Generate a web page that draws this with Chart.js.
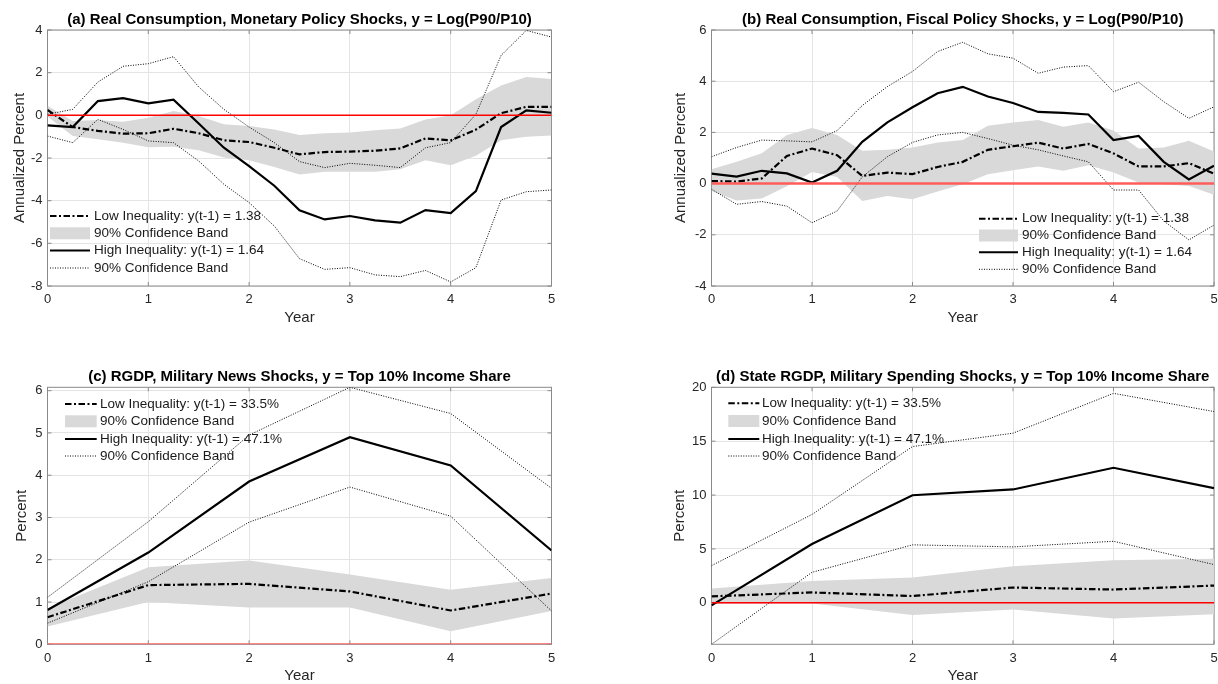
<!DOCTYPE html>
<html>
<head>
<meta charset="utf-8">
<script src="https://cdn.jsdelivr.net/npm/chart.js@4/dist/chart.umd.min.js"></script>
<style>
  html, body { margin: 0; padding: 0; background: #fff; overflow: hidden; width: 1218px; height: 684px; }
  canvas { position: absolute; }
</style>
</head>
<body>
<canvas id="pa" width="570" height="331" style="left:0px;top:0px"></canvas>
<canvas id="pb" width="590" height="331" style="left:640px;top:0px"></canvas>
<canvas id="pc" width="570" height="332" style="left:0px;top:357px"></canvas>
<canvas id="pd" width="590" height="332" style="left:640px;top:357px"></canvas>
<script>
// Horizons (years after the shock)
const quarters = [0, 0.25, 0.5, 0.75, 1, 1.25, 1.5, 1.75, 2, 2.25, 2.5, 2.75, 3, 3.25, 3.5, 3.75, 4, 4.25, 4.5, 4.75, 5];
const years = [0, 1, 2, 3, 4, 5];
const xTicks = [0, 1, 2, 3, 4, 5];

// (a) Real consumption, monetary policy shocks
const aLow       = [0.25, -0.55, -0.73, -0.86, -0.84, -0.63, -0.84, -1.17, -1.25, -1.52, -1.83, -1.72, -1.70, -1.66, -1.55, -1.08, -1.17, -0.67, 0.10, 0.40, 0.40];
const aLowBandUp = [0.45, -0.27, -0.22, -0.30, -0.11, 0.20, -0.03, -0.42, -0.50, -0.66, -0.92, -0.84, -0.80, -0.70, -0.62, -0.19, 0.00, 0.75, 1.40, 1.80, 1.70];
const aLowBandDn = [-0.05, -0.97, -1.12, -1.28, -1.50, -1.47, -1.64, -1.98, -2.10, -2.42, -2.77, -2.64, -2.64, -2.64, -2.53, -2.10, -2.34, -1.90, -1.17, -1.00, -0.94];
const aHigh      = [-0.47, -0.55, 0.67, 0.81, 0.56, 0.73, -0.38, -1.52, -2.38, -3.30, -4.45, -4.88, -4.72, -4.92, -5.03, -4.44, -4.58, -3.55, -0.55, 0.23, 0.12];
const aHighUp    = [0.05, 0.28, 1.56, 2.30, 2.42, 2.75, 1.33, 0.28, -0.55, -1.28, -2.17, -2.45, -2.25, -2.34, -2.45, -1.52, -1.28, 0.05, 2.81, 3.98, 3.67];
const aHighDn    = [-0.97, -1.28, -0.19, -0.66, -1.20, -1.28, -2.14, -3.23, -4.09, -5.19, -6.72, -7.22, -7.14, -7.48, -7.56, -7.27, -7.81, -7.14, -3.97, -3.58, -3.50];
const aTicks = [-8, -6, -4, -2, 0, 2, 4];

// (b) Real consumption, fiscal policy shocks
const bLow       = [0.10, 0.08, 0.20, 1.08, 1.37, 1.11, 0.30, 0.43, 0.37, 0.65, 0.85, 1.32, 1.46, 1.60, 1.37, 1.55, 1.18, 0.67, 0.67, 0.80, 0.39];
const bLowBandUp = [0.56, 0.85, 1.19, 1.90, 2.17, 1.90, 1.28, 1.32, 1.41, 1.61, 1.70, 2.26, 2.39, 2.48, 2.22, 2.39, 2.07, 1.37, 1.41, 1.67, 1.25];
const bLowBandDn = [-0.29, -0.66, -0.58, -0.10, 0.45, 0.26, -0.68, -0.48, -0.61, -0.31, -0.03, 0.37, 0.52, 0.67, 0.50, 0.72, 0.43, 0.04, -0.03, -0.09, -0.44];
const bHigh      = [0.39, 0.27, 0.50, 0.40, 0.04, 0.50, 1.63, 2.39, 2.98, 3.53, 3.78, 3.40, 3.15, 2.80, 2.76, 2.70, 1.70, 1.86, 0.85, 0.16, 0.70];
const bHighUp    = [1.05, 1.41, 1.70, 1.67, 1.63, 2.07, 3.05, 3.79, 4.38, 5.16, 5.52, 5.07, 4.90, 4.31, 4.55, 4.61, 3.59, 3.96, 3.20, 2.55, 3.00];
const bHighDn    = [-0.22, -0.81, -0.70, -0.88, -1.53, -1.07, 0.26, 1.05, 1.61, 1.90, 2.00, 1.76, 1.50, 1.32, 1.08, 0.85, -0.25, -0.25, -1.46, -2.20, -1.62];
const bTicks = [-4, -2, 0, 2, 4, 6];

// (c) RGDP, military news shocks
const cLow       = [0.64, 1.40, 1.43, 1.25, 0.80, 1.20];
const cLowBandUp = [0.85, 1.82, 1.98, 1.65, 1.29, 1.57];
const cLowBandDn = [0.42, 1.00, 0.87, 0.87, 0.31, 0.79];
const cHigh      = [0.81, 2.17, 3.85, 4.90, 4.23, 2.22];
const cHighUp    = [1.11, 2.90, 4.95, 6.08, 5.46, 3.69];
const cHighDn    = [0.50, 1.48, 2.89, 3.72, 3.03, 0.79];
const cTicks = [0, 1, 2, 3, 4, 5, 6];

// (d) State RGDP, military spending shocks
const dLow       = [0.60, 0.96, 0.63, 1.42, 1.23, 1.60];
const dLowBandUp = [1.32, 2.02, 2.36, 3.40, 3.95, 4.10];
const dLowBandDn = [-0.12, -0.06, -1.12, -0.62, -1.45, -1.05];
const dHigh      = [-0.24, 5.46, 9.98, 10.52, 12.53, 10.65];
const dHighUp    = [3.45, 8.20, 14.50, 15.74, 19.44, 17.75];
const dHighDn    = [-3.85, 2.83, 5.38, 5.19, 5.71, 3.55];
const dTicks = [0, 5, 10, 15, 20];

const legendConsumption = ['Low Inequality: y(t-1) = 1.38', '90% Confidence Band', 'High Inequality: y(t-1) = 1.64', '90% Confidence Band'];
const legendIncomeShare = ['Low Inequality: y(t-1) = 33.5%', '90% Confidence Band', 'High Inequality: y(t-1) = 47.1%', '90% Confidence Band'];

const FONT = '"Liberation Sans", Arial, Helvetica, sans-serif';
const TEXT = '#262626';
const BAND = '#d9d9d9';
const DASHDOT = [6.5, 2.5, 2, 2.5];
const DOTTED = [1, 1.5];

function pts(xs, ys) { return xs.map((x, i) => ({ x: x, y: ys[i] })); }

// Axes box with inward tick marks, drawn above the grid and below the data
const boxPlugin = {
  id: 'axesBox',
  beforeDatasetsDraw(chart) {
    const { ctx, chartArea: a, scales } = chart;
    ctx.save();
    ctx.strokeStyle = '#8a8a8a';
    ctx.lineWidth = 1;
    ctx.strokeRect(a.left, a.top, a.right - a.left, a.bottom - a.top);
    const t = 4;
    ctx.beginPath();
    scales.x.ticks.forEach(tk => {
      const px = scales.x.getPixelForValue(tk.value);
      ctx.moveTo(px, a.bottom); ctx.lineTo(px, a.bottom - t);
      ctx.moveTo(px, a.top); ctx.lineTo(px, a.top + t);
    });
    scales.y.ticks.forEach(tk => {
      const py = scales.y.getPixelForValue(tk.value);
      ctx.moveTo(a.left, py); ctx.lineTo(a.left + t, py);
      ctx.moveTo(a.right, py); ctx.lineTo(a.right - t, py);
    });
    ctx.stroke();
    ctx.restore();
  }
};

// Legend drawn inside the axes, without a frame
const insideLegend = {
  id: 'insideLegend',
  afterDatasetsDraw(chart, args, opts) {
    const { ctx, chartArea: a } = chart;
    const x0 = a.left + opts.sx0, x1 = a.left + opts.sx1, tx = a.left + opts.tx;
    ctx.save();
    opts.rows.forEach((r, i) => {
      const y = a.top + r;
      if (i === 1) {
        ctx.fillStyle = BAND;
        ctx.fillRect(x0, y - 6, x1 - x0, 12);
      } else {
        ctx.beginPath();
        ctx.strokeStyle = '#000';
        if (i === 0) { ctx.lineWidth = 2; ctx.setLineDash(DASHDOT); }
        if (i === 2) { ctx.lineWidth = 2; ctx.setLineDash([]); }
        if (i === 3) { ctx.lineWidth = 1; ctx.setLineDash(DOTTED); }
        ctx.moveTo(x0, y); ctx.lineTo(x1, y);
        ctx.stroke();
        ctx.setLineDash([]);
      }
      ctx.fillStyle = '#1a1a1a';
      ctx.font = '13.5px ' + FONT;
      ctx.textBaseline = 'middle';
      ctx.textAlign = 'left';
      ctx.fillText(opts.labels[i], tx, y);
    });
    ctx.restore();
  }
};

function makePanel(id, p) {
  const datasets = [
    { data: pts(p.xs, p.lowDn), borderWidth: 0, pointRadius: 0, fill: false, order: 10 },
    { data: pts(p.xs, p.lowUp), borderWidth: 0, pointRadius: 0, fill: '-1', backgroundColor: BAND, order: 9 },
    { data: pts(p.xs, p.highUp), borderColor: '#000', borderWidth: 1, borderDash: DOTTED, pointRadius: 0, fill: false, order: 5 },
    { data: pts(p.xs, p.highDn), borderColor: '#000', borderWidth: 1, borderDash: DOTTED, pointRadius: 0, fill: false, order: 5 },
    { data: pts(p.xs, p.low), borderColor: '#000', borderWidth: 2.2, borderDash: DASHDOT, pointRadius: 0, fill: false, order: 3 },
    { data: pts(p.xs, p.high), borderColor: '#000', borderWidth: 2.2, pointRadius: 0, fill: false, order: 2 },
    { data: [{ x: 0, y: 0 }, { x: 5, y: 0 }], borderColor: p.zeroColor, borderWidth: p.zeroWidth, pointRadius: 0, fill: false, order: 1 }
  ];
  return new Chart(document.getElementById(id), {
    type: 'line',
    data: { datasets: datasets },
    plugins: [boxPlugin, insideLegend],
    options: {
      responsive: false,
      animation: false,
      devicePixelRatio: 1,
      layout: { padding: { left: 0, right: p.padRight, top: 0, bottom: 0 } },
      elements: { line: { tension: 0 } },
      scales: {
        x: {
          type: 'linear', min: 0, max: 5,
          afterFit: s => { s.height = p.xh; },
          afterBuildTicks: s => { s.ticks = xTicks.map(v => ({ value: v })); },
          grid: { color: '#e4e4e4', drawTicks: false },
          border: { display: false },
          ticks: { font: { family: FONT, size: 13 }, color: TEXT, padding: 6, maxRotation: 0 },
          title: { display: true, text: 'Year', font: { family: FONT, size: 15 }, color: TEXT, padding: { top: 0, bottom: p.xtp } }
        },
        y: {
          type: 'linear', min: p.yMin, max: p.yMax,
          afterFit: s => { s.width = p.yw; },
          afterBuildTicks: s => { s.ticks = p.yTicks.map(v => ({ value: v })); },
          grid: { color: '#e4e4e4', drawTicks: false },
          border: { display: false },
          ticks: { font: { family: FONT, size: 13 }, color: TEXT, padding: 5 },
          title: { display: true, text: p.yTitle, font: { family: FONT, size: 15 }, color: TEXT, padding: { top: p.ytp, bottom: 0 } }
        }
      },
      plugins: {
        legend: { display: false },
        tooltip: { enabled: false },
        title: {
          display: true, text: p.title, fullSize: false, color: '#000',
          font: { family: FONT, size: 15, weight: 'bold' },
          padding: { top: 11, bottom: p.titlePadBottom }
        },
        insideLegend: p.legend
      }
    }
  });
}

makePanel('pa', {
  title: '(a) Real Consumption, Monetary Policy Shocks, y = Log(P90/P10)',
  yTitle: 'Annualized Percent', xs: quarters,
  low: aLow, lowUp: aLowBandUp, lowDn: aLowBandDn, high: aHigh, highUp: aHighUp, highDn: aHighDn,
  yMin: -8, yMax: 4, yTicks: aTicks,
  yw: 47.5, padRight: 18.5, xh: 45, xtp: 4, ytp: 11, titlePadBottom: 1,
  zeroColor: '#ff0000', zeroWidth: 1.5,
  legend: { sx0: 2.5, sx1: 42.5, tx: 46.5, rows: [186, 203.3, 220.6, 238], labels: legendConsumption }
});

makePanel('pb', {
  title: '(b) Real Consumption, Fiscal Policy Shocks, y = Log(P90/P10)',
  yTitle: 'Annualized Percent', xs: quarters,
  low: bLow, lowUp: bLowBandUp, lowDn: bLowBandDn, high: bHigh, highUp: bHighUp, highDn: bHighDn,
  yMin: -4, yMax: 6, yTicks: bTicks,
  yw: 71.5, padRight: 16, xh: 45, xtp: 4, ytp: 32, titlePadBottom: 1,
  zeroColor: '#ff5c5c', zeroWidth: 2.5,
  legend: { sx0: 267.5, sx1: 306.5, tx: 310.5, rows: [188.7, 205.5, 222.3, 239.3], labels: legendConsumption }
});

makePanel('pc', {
  title: '(c) RGDP, Military News Shocks, y = Top 10% Income Share',
  yTitle: 'Percent', xs: years,
  low: cLow, lowUp: cLowBandUp, lowDn: cLowBandDn, high: cHigh, highUp: cHighUp, highDn: cHighDn,
  yMin: 0, yMax: 6.08, yTicks: cTicks,
  yw: 47.5, padRight: 18.5, xh: 44.7, xtp: 3.7, ytp: 12.5, titlePadBottom: 1.3,
  zeroColor: '#ff6a6a', zeroWidth: 2,
  legend: { sx0: 17.5, sx1: 49.2, tx: 52.5, rows: [16.7, 34, 51.7, 68.7], labels: legendIncomeShare }
});

makePanel('pd', {
  title: '(d) State RGDP, Military Spending Shocks, y = Top 10% Income Share',
  yTitle: 'Percent', xs: years,
  low: dLow, lowUp: dLowBandUp, lowDn: dLowBandDn, high: dHigh, highUp: dHighUp, highDn: dHighDn,
  yMin: -3.85, yMax: 20, yTicks: dTicks,
  yw: 71.5, padRight: 16, xh: 44.7, xtp: 3.7, ytp: 31, titlePadBottom: 1.3,
  zeroColor: '#ff0000', zeroWidth: 1.5,
  legend: { sx0: 16.8, sx1: 47.8, tx: 50.5, rows: [16, 33.7, 51.7, 68.7], labels: legendIncomeShare }
});
</script>
</body>
</html>
